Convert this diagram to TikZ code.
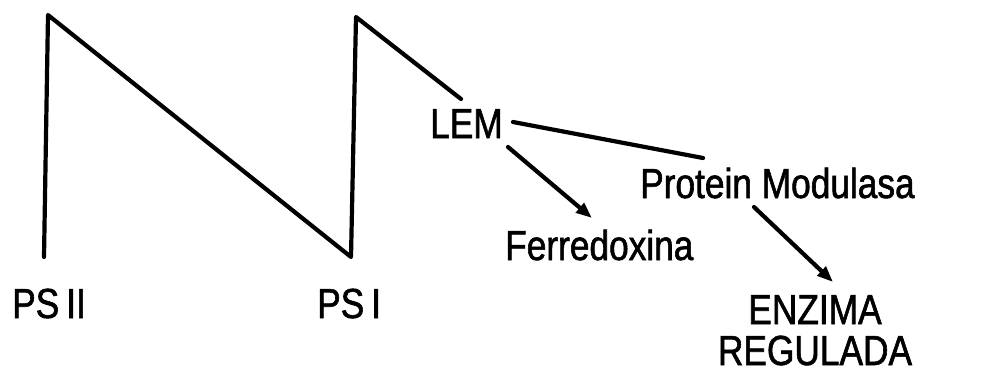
\documentclass[tikz,border=0pt]{standalone}
\usepackage{fontspec}
\setmainfont{Liberation Sans}[FakeStretch=0.84, FakeBold=1.4]
\usetikzlibrary{arrows.meta}
\tikzset{
  wire/.style={line width=4.2pt, line cap=round, line join=round},
  arrowline/.style={wire, -{Triangle[length=16pt,width=12pt]}},
  label/.style={inner sep=0pt, anchor=base west, font=\fontsize{42}{46}\selectfont}
}
\begin{document}
\begin{tikzpicture}[x=1pt, y=-1pt]
  \useasboundingbox (0,0) rectangle (983,372);

  % labels
  \node[label] (psii) at (12,318) {PS\,II};
  \node[label] (psi) at (317,318) {PS\,I};
  \node[label] (lem) at (430,138) {LEM};
  \node[label] (prot) at (640,198) {Protein Modulasa};
  \node[label] (fer) at (505,260) {Ferredoxina};
  \node[label, anchor=base, align=center] (enz) at (815,365) {ENZIMA\\[-5pt]REGULADA};

  % end points of the Z scheme and of the connectors
  \coordinate (psii-low) at (44,257);
  \coordinate (psii-top) at (48,15);
  \coordinate (psi-low) at (351,257);
  \coordinate (psi-top) at (356,17);
  \coordinate (lem-in) at (461,99);
  \coordinate (lem-right) at (513,122);
  \coordinate (lem-down) at (508,147);
  \coordinate (prot-in) at (703,158);
  \coordinate (fer-in) at (592,218);
  \coordinate (prot-down) at (754,207);
  \coordinate (enz-in) at (833,282);

  % Z scheme
  \draw[wire] (psii-low) -- (psii-top) -- (psi-low) -- (psi-top) -- (lem-in);

  % connectors
  \draw[wire] (lem-right) -- (prot-in);
  \draw[arrowline] (lem-down) -- (fer-in);
  \draw[arrowline] (prot-down) -- (enz-in);
\end{tikzpicture}
\end{document}
